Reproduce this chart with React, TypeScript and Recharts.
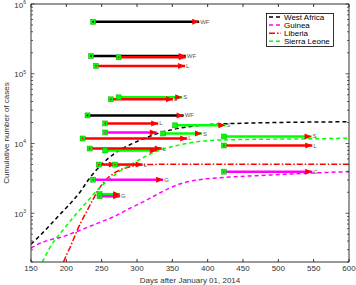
import React from 'react';
import { ComposedChart, Line, XAxis, YAxis, Legend } from 'recharts';

// axis ticks
const dayTicks = [150, 200, 250, 300, 350, 400, 450, 500, 550, 600];
const caseTicks = [
  200, 300, 400, 500, 600, 700, 800, 900,
  1000, 2000, 3000, 4000, 5000, 6000, 7000, 8000, 9000,
  10000, 20000, 30000, 40000, 50000, 60000, 70000, 80000, 90000,
  100000, 200000, 300000, 400000, 500000, 600000, 700000, 800000, 900000,
  1000000,
];

// model curves (cumulative cases)
const waDays = [150, 160, 170, 180, 190, 200, 210, 220, 230, 240, 250, 260, 270, 280, 290, 300, 310, 320, 335, 350, 370, 400, 450, 500, 550, 600];
const waCases = [360, 450, 570, 730, 940, 1200, 1550, 2050, 2900, 3900, 5000, 6200, 7400, 8500, 9600, 10700, 11800, 12900, 14500, 15800, 17200, 18600, 19500, 20000, 20300, 20500];

const guDays = [150, 160, 170, 180, 190, 200, 210, 220, 230, 240, 250, 260, 270, 280, 290, 300, 310, 320, 330, 340, 350, 360, 370, 385, 400, 430, 470, 510, 550, 600];
const guCases = [316, 360, 395, 425, 445, 480, 525, 570, 630, 690, 760, 830, 920, 1040, 1180, 1320, 1480, 1680, 1900, 2140, 2380, 2620, 2800, 3000, 3130, 3300, 3460, 3620, 3780, 3950];

const liDays = [196, 200, 205, 210, 215, 220, 225, 230, 235, 240, 245, 250, 260, 270, 280, 290, 300, 315, 330, 360, 400, 600];
const liCases = [200, 250, 320, 420, 560, 720, 900, 1120, 1400, 1750, 2150, 2550, 3300, 3900, 4350, 4650, 4850, 4980, 5030, 5050, 5050, 5050];

const slDays = [166, 175, 185, 195, 210, 225, 240, 255, 270, 285, 300, 318, 335, 351, 370, 385, 400, 430, 470, 520, 600];
const slCases = [200, 300, 430, 570, 880, 1300, 1950, 2750, 3650, 4600, 5600, 7000, 8200, 9100, 10000, 10600, 11000, 11300, 11500, 11600, 11900];

const curveNames = ['West Africa', 'Guinea', 'Liberia', 'Sierra Leone'];
const curveKeys = ['wa', 'gu', 'li', 'sl'];

// fitted windows: start day, end day, level, region
const segRegion = ['WF', 'WF', 'L', 'L', 'S', 'L', 'WF', 'L', 'S', 'G', 'S', 'L', 'S', 'S', 'L', 'L', 'L', 'L', 'G', 'G', 'S', 'G'];
const segLabel = ['WF', 'WF', '', 'L', 'S', 'L', 'WF', 'L', 'S', '', 'S', 'L', 'S', '', 'L', 'L', 'L', 'L', 'G', 'G', '', 'G'];
const segStart = [238, 235, 274, 242, 274, 263, 230, 255, 354, 255, 337, 223, 423, 255, 233, 423, 246, 269, 238, 423, 247, 247];
const segEnd = [388, 369, 369, 368, 364, 351, 366, 330, 425, 328, 392, 371, 547, 328, 335, 548, 270, 308, 337, 548, 276, 276];
const segCases = [556000, 180000, 172000, 129500, 45900, 43000, 25300, 19400, 18200, 14400, 13900, 11800, 12600, 7940, 8470, 9360, 4990, 4990, 3030, 3950, 1880, 1750];

const curveColors = ['#000000', '#ff00ff', '#ff0000', '#00ff00'];
const curveDash = ['4 3', '4 3', '6 2 1.5 2', '4 3'];
const regionColor: Record<string, string> = { WF: '#000000', G: '#ff00ff', L: '#ff0000', S: '#00ff00' };

// one table keyed by day, every series in its own column
const buildTable = () => {
  const rows = new Map<number, any>();
  const put = (day: number, key: string, v: number) => {
    if (!rows.has(day)) rows.set(day, { x: day });
    rows.get(day)[key] = v;
  };
  const curveDays = [waDays, guDays, liDays, slDays];
  const curveCases = [waCases, guCases, liCases, slCases];
  curveDays.forEach((days, c) => days.forEach((d, j) => put(d, curveKeys[c], curveCases[c][j])));
  segStart.forEach((s, i) => {
    put(s, `seg${i}`, segCases[i]);
    put(segEnd[i], `seg${i}`, segCases[i]);
  });
  return [...rows.values()].sort((a, b) => a.x - b.x);
};
const chartData = buildTable();

const isDecade = (v: number) => Math.abs(Math.log10(v) - Math.round(Math.log10(v))) < 1e-9;
const ink = '#333';

const BottomTick = (props: any) => {
  const { x, y, payload } = props;
  return (
    <g>
      <line x1={x} x2={x} y1={y} y2={y - 3} stroke={ink} />
      <text x={x} y={y + 8.5} textAnchor="middle" fontSize={8} fill={ink}>{payload.value}</text>
    </g>
  );
};

const TopTick = (props: any) => {
  const { x, y } = props;
  return <line x1={x} x2={x} y1={y} y2={y + 3} stroke={ink} />;
};

const LeftTick = (props: any) => {
  const { x, y, payload } = props;
  const major = isDecade(payload.value);
  return (
    <g>
      <line x1={x} x2={x + (major ? 3.5 : 2)} y1={y} y2={y} stroke={ink} strokeWidth={0.8} />
      {major && (
        <text x={x - 5} y={y + 3.5} textAnchor="end" fontSize={8} fill={ink}>
          <tspan>10</tspan>
          <tspan dy={-3.5} fontSize={5}>{Math.round(Math.log10(payload.value))}</tspan>
        </text>
      )}
    </g>
  );
};

const RightTick = (props: any) => {
  const { x, y, payload } = props;
  const major = isDecade(payload.value);
  return <line x1={x} x2={x - (major ? 3.5 : 2)} y1={y} y2={y} stroke={ink} strokeWidth={0.8} />;
};

const makeSegDot = (i: number) => (props: any) => {
  const { cx, cy, payload } = props;
  if (cx == null || cy == null || payload[`seg${i}`] == null) return <g key={`seg${i}-${props.index}`} />;
  const color = regionColor[segRegion[i]];
  if (payload.x === segStart[i]) {
    return (
      <g key={`seg${i}-${props.index}`}>
        <rect x={cx - 2.5} y={cy - 2.5} width={5} height={5} fill="#00ff00" stroke="#00b000" strokeWidth={0.5} />
        <circle cx={cx} cy={cy} r={0.9} fill={color} />
      </g>
    );
  }
  return (
    <g key={`seg${i}-${props.index}`}>
      <polygon points={`${cx - 7},${cy - 3} ${cx},${cy} ${cx - 7},${cy + 3}`} fill="#ff0000" />
      {segLabel[i] && (
        <text x={cx + 1} y={cy + 2} fontSize={6} fill="#555">{segLabel[i]}</text>
      )}
    </g>
  );
};

const LegendBox = () => (
  <svg width={68} height={34} style={{ display: 'block' }}>
    <rect x={0.5} y={0.5} width={67} height={33} fill="#fff" stroke="#000" strokeWidth={0.8} />
    {curveNames.map((name, i) => (
      <g key={name}>
        <line x1={3} x2={15} y1={4 + i * 8.1} y2={4 + i * 8.1} stroke={curveColors[i]} strokeWidth={1.5} strokeDasharray={curveDash[i]} />
        <text x={18} y={4 + i * 8.1} dy={2.8} fontSize={8} fill="#000">{name}</text>
      </g>
    ))}
  </svg>
);

export default function App() {
  return (
    <div style={{ position: 'absolute', left: 0, top: 0, fontFamily: '"Liberation Sans", Arial, sans-serif', background: '#fff' }}>
      <ComposedChart width={356} height={285} data={chartData} margin={{ top: 0, right: 0, bottom: 0, left: 0 }}>
        <XAxis
          dataKey="x"
          type="number"
          domain={[150, 600]}
          ticks={dayTicks}
          interval={0}
          height={23}
          tickSize={0}
          tickMargin={0}
          tick={<BottomTick />}
          axisLine={{ stroke: ink }}
          allowDataOverflow
          label={{ value: 'Days after January 01, 2014', position: 'insideBottom', offset: 2, style: { fontSize: 8, fill: ink } }}
        />
        <XAxis
          xAxisId="top"
          orientation="top"
          dataKey="x"
          type="number"
          domain={[150, 600]}
          ticks={dayTicks}
          interval={0}
          height={4}
          tickSize={0}
          tickMargin={0}
          tick={<TopTick />}
          axisLine={{ stroke: ink }}
          allowDataOverflow
        />
        <YAxis
          type="number"
          scale="log"
          domain={[200, 1000000]}
          ticks={caseTicks}
          interval={0}
          width={31}
          tickSize={0}
          tickMargin={0}
          tick={<LeftTick />}
          axisLine={{ stroke: ink }}
          allowDataOverflow
          label={{ value: 'Cumulative number of cases', angle: -90, position: 'insideLeft', offset: 6, style: { textAnchor: 'middle', fontSize: 8, fill: ink } }}
        />
        <YAxis
          yAxisId="right"
          orientation="right"
          type="number"
          scale="log"
          domain={[200, 1000000]}
          ticks={caseTicks}
          interval={0}
          width={7}
          tickSize={0}
          tickMargin={0}
          tick={<RightTick />}
          axisLine={{ stroke: ink }}
          allowDataOverflow
        />
        <Legend
          layout="vertical"
          align="center"
          verticalAlign="middle"
          wrapperStyle={{ left: 266, top: 13, width: 68, height: 34 }}
          content={() => <LegendBox />}
        />
        {curveKeys.map((k, i) => (
          <Line
            key={k}
            dataKey={k}
            name={curveNames[i]}
            type={k === 'li' ? 'linear' : 'monotone'}
            stroke={curveColors[i]}
            strokeWidth={1.5}
            strokeDasharray={curveDash[i]}
            dot={false}
            activeDot={false}
            connectNulls
            isAnimationActive={false}
          />
        ))}
        {segStart.map((_, i) => (
          <Line
            key={`seg${i}`}
            dataKey={`seg${i}`}
            type="linear"
            stroke={regionColor[segRegion[i]]}
            strokeWidth={2.5}
            dot={makeSegDot(i)}
            activeDot={false}
            connectNulls
            legendType="none"
            isAnimationActive={false}
          />
        ))}
      </ComposedChart>
    </div>
  );
}
